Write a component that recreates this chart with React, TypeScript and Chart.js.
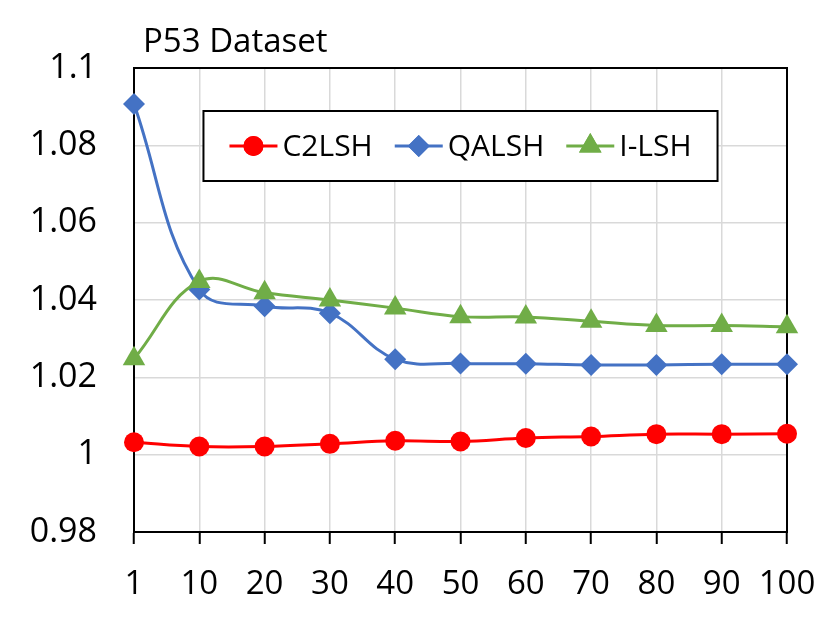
import { useEffect, useRef } from "react";
import { Chart, registerables, type Plugin } from "chart.js";
import { drawPoint } from "chart.js/helpers";

Chart.register(...registerables);

const FONT = "'Open Sans', 'Noto Sans', sans-serif";

const categories = ["1", "10", "20", "30", "40", "50", "60", "70", "80", "90", "100"];
const c2lsh = [1.0032, 1.0021, 1.0021, 1.0028, 1.0036, 1.0034, 1.0043, 1.0047, 1.0053, 1.0053, 1.0054];
const qalsh = [1.0907, 1.0427, 1.0384, 1.0366, 1.0247, 1.0236, 1.0235, 1.0232, 1.0232, 1.0234, 1.0234];
const ilsh = [1.0248, 1.0448, 1.0419, 1.04, 1.0379, 1.0357, 1.0356, 1.0345, 1.0334, 1.0334, 1.0331];
const yMin = 0.98;
const yMax = 1.1;
const yStep = 0.02;
const title = "P53 Dataset";

const series = [
  { label: "C2LSH", data: c2lsh, color: "#ff0000", point: "circle", radius: 10, order: 2 },
  { label: "QALSH", data: qalsh, color: "#4472c4", point: "rectRot", radius: 11, order: 1 },
  { label: "I-LSH", data: ilsh, color: "#70ad47", point: "triangle", radius: 13, order: 0 },
];

// plot frame, title and the boxed legend Excel draws inside the plot
const decorations: Plugin<"line"> = {
  id: "decorations",
  beforeDatasetsDraw(chart) {
    const { ctx, chartArea: a } = chart;
    ctx.save();
    ctx.strokeStyle = "#000";
    ctx.lineWidth = 2;
    ctx.strokeRect(a.left, a.top, a.right - a.left, a.bottom - a.top);
    ctx.restore();
  },
  afterDraw(chart) {
    const { ctx, chartArea: a } = chart;
    ctx.save();
    ctx.fillStyle = "#000";
    ctx.font = `33px ${FONT}`;
    ctx.textBaseline = "alphabetic";
    ctx.textAlign = "left";
    ctx.fillText(title, a.left + 9, a.top - 16);

    ctx.font = `30px ${FONT}`;
    const lineLen = 48;
    const gap = 5;
    const itemGap = 22;
    const pad = 26;
    const widths = series.map((s) => lineLen + gap + ctx.measureText(s.label).width);
    const inner = widths.reduce((p, w) => p + w, 0) + itemGap * (series.length - 1);
    const boxW = inner + pad * 2;
    const boxH = 70;
    const cx = (a.left + a.right) / 2;
    const bx = cx - boxW / 2;
    const by = a.top + 43;
    ctx.fillStyle = "#fff";
    ctx.fillRect(bx, by, boxW, boxH);
    ctx.strokeStyle = "#000";
    ctx.lineWidth = 2;
    ctx.strokeRect(bx, by, boxW, boxH);

    let x = bx + pad;
    const y = by + boxH / 2;
    series.forEach((s, i) => {
      ctx.strokeStyle = s.color;
      ctx.lineWidth = 3;
      ctx.beginPath();
      ctx.moveTo(x, y);
      ctx.lineTo(x + lineLen, y);
      ctx.stroke();
      ctx.fillStyle = s.color;
      drawPoint(ctx, { pointStyle: s.point as any, radius: s.radius, borderWidth: 0, rotation: 0 }, x + lineLen / 2, y);
      ctx.fill();
      ctx.fillStyle = "#000";
      ctx.textBaseline = "middle";
      ctx.fillText(s.label, x + lineLen + gap, y + 1);
      x += widths[i] + itemGap;
    });
    ctx.restore();
  },
};

export default function App() {
  const canvasRef = useRef<HTMLCanvasElement>(null);

  useEffect(() => {
    if (!canvasRef.current) return;
    Chart.defaults.font.family = FONT;
    Chart.defaults.color = "#000";

    const chart = new Chart(canvasRef.current, {
      type: "line",
      data: {
        labels: categories,
        datasets: series.map((s) => ({
          label: s.label,
          data: s.data,
          borderColor: s.color,
          backgroundColor: s.color,
          borderWidth: 3,
          pointStyle: s.point as any,
          pointRadius: s.radius,
          pointHoverRadius: s.radius,
          pointBorderWidth: 0,
          pointBackgroundColor: s.color,
          tension: 0.4,
          order: s.order,
          clip: false as any,
        })),
      },
      options: {
        animation: false,
        responsive: true,
        maintainAspectRatio: false,
        layout: { padding: { left: 0, right: 44, top: 68, bottom: 0 } },
        plugins: {
          legend: { display: false },
          title: { display: false },
          tooltip: { enabled: false },
        },
        scales: {
          x: {
            offset: false,
            grid: { color: "#d9d9d9", lineWidth: 1.5, tickColor: "#000", tickLength: 12, tickWidth: 2 },
            border: { color: "#000", width: 2 },
            ticks: { font: { size: 33 }, padding: 21, maxRotation: 0, autoSkip: false },
            afterFit: (scale: any) => {
              scale.height = 99;
              scale.paddingLeft = 0;
              scale.paddingRight = 0;
            },
          },
          y: {
            min: yMin,
            max: yMax,
            grid: { color: "#d9d9d9", lineWidth: 1.5, drawTicks: false },
            border: { color: "#000", width: 2 },
            ticks: {
              stepSize: yStep,
              font: { size: 34 },
              padding: 37,
              callback: (v) => String(Number(Number(v).toFixed(2))),
            },
            afterFit: (scale) => {
              scale.width = 134;
            },
          },
        },
      },
      plugins: [decorations],
    });
    return () => chart.destroy();
  }, []);

  return (
    <div style={{ position: "fixed", left: 0, top: 0, width: 831, height: 631, background: "#fff" }}>
      <canvas ref={canvasRef} />
    </div>
  );
}
